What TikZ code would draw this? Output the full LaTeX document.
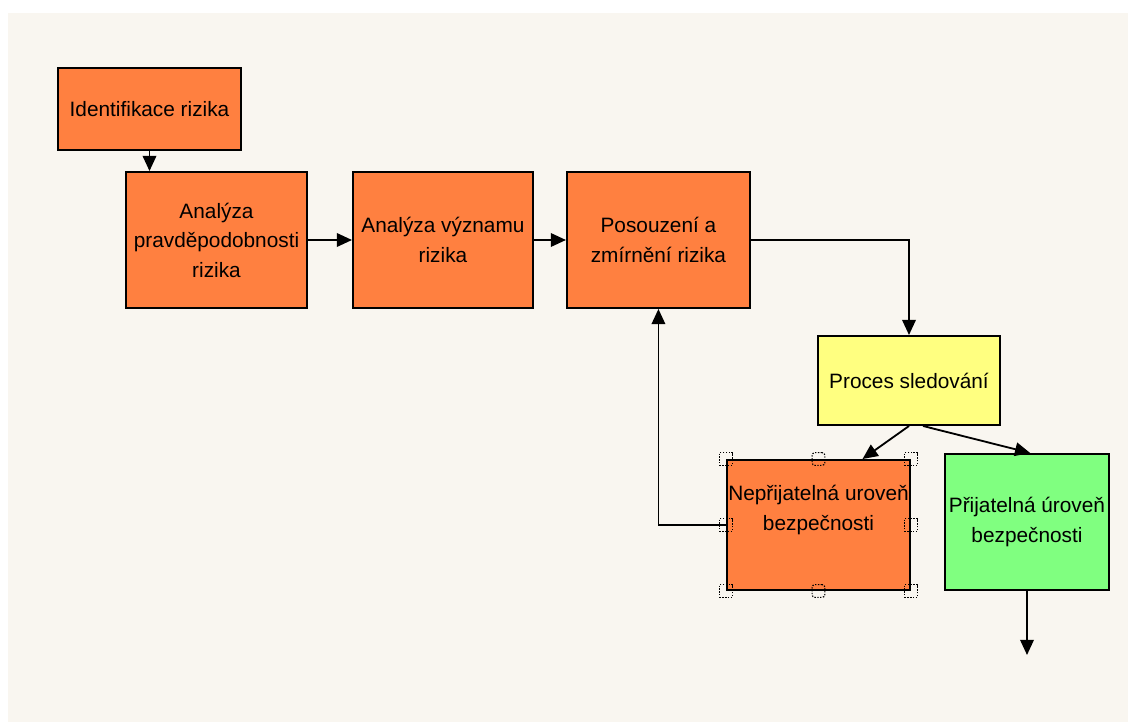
\documentclass[tikz,border=0pt]{standalone}
\usepackage{fontspec}
\setmainfont{Liberation Sans}
\usepackage{tikz}
\usetikzlibrary{arrows.meta, positioning}
\usepackage{xcolor}
\definecolor{canvas}{RGB}{249, 246, 240}
\definecolor{riskorange}{RGB}{255, 128, 64}
\definecolor{monitoryellow}{RGB}{255, 255, 128}
\definecolor{safegreen}{RGB}{128, 255, 128}

\begin{document}
\begin{tikzpicture}[
    box/.style={rectangle, draw, line width=1.4pt, align=center, inner sep=2pt, font=\fontsize{14.8}{21}\selectfont},
    link/.style={line width=1.3pt, -{Triangle[length=0.38cm, width=0.34cm]}},
    handle/.style={draw, dash pattern=on 1pt off 1pt, line width=0.8pt, minimum size=0.32cm, inner sep=0pt}
]
\useasboundingbox (0,0) rectangle (28.2,-18.05);
\fill[white] (0,0) rectangle (28.2,-18.05);
\fill[canvas] (0.2,-0.325) rectangle (28.2,-18.05);

\node[box, fill=riskorange, minimum width=4.575cm, minimum height=2.05cm] (ident) at (3.7375,-2.725) {Identifikace rizika};
\node[box, fill=riskorange, minimum width=4.525cm, minimum height=3.4cm] (pravd) at (5.4125,-6.0) {Analýza\\pravděpodobnosti\\rizika};
\node[box, fill=riskorange, minimum width=4.5cm, minimum height=3.4cm, right=1.1cm of pravd] (vyznam) {Analýza významu\\rizika};
\node[box, fill=riskorange, minimum width=4.575cm, minimum height=3.4cm, right=0.8cm of vyznam] (posouz) {Posouzení a\\zmírnění rizika};
\node[box, fill=monitoryellow, minimum width=4.55cm, minimum height=2.225cm] (proces) at (22.725,-9.5125) {Proces sledování};
\node[box, fill=riskorange, minimum width=4.575cm, minimum height=3.25cm,
      label={[align=center, font=\fontsize{14.8}{21}\selectfont, yshift=0.375cm]center:Nepřijatelná uroveň\\bezpečnosti}] (neprij) at (20.4625,-13.125) {};
\node[box, fill=safegreen, minimum width=4.1cm, minimum height=3.4cm] (prij) at (25.675,-13.05) {Přijatelná úroveň\\bezpečnosti};
\coordinate[below=1.6cm of prij.south] (dalsi);

% selection handles
\foreach \a in {north west, north east, south west, south east, west, east}
    \node[handle] at (neprij.\a) {};
\foreach \a in {north, south}
    \node[handle, rounded corners=2pt] at (neprij.\a) {};

\draw[link] (ident.south) -- (ident.south |- pravd.north);
\draw[link] (pravd.east) -- (vyznam.west);
\draw[link] (vyznam.east) -- (posouz.west);
\draw[link] (posouz.east) -| (proces.north);
\draw[link] (proces.south) -- ([xshift=1.1cm]neprij.north);
\draw[link] ([xshift=0.35cm]proces.south) -- ([xshift=0.08cm]prij.north);
\draw[link] (neprij.west) -| (posouz.south);
\draw[link] (prij.south) -- (dalsi);
\end{tikzpicture}
\end{document}
